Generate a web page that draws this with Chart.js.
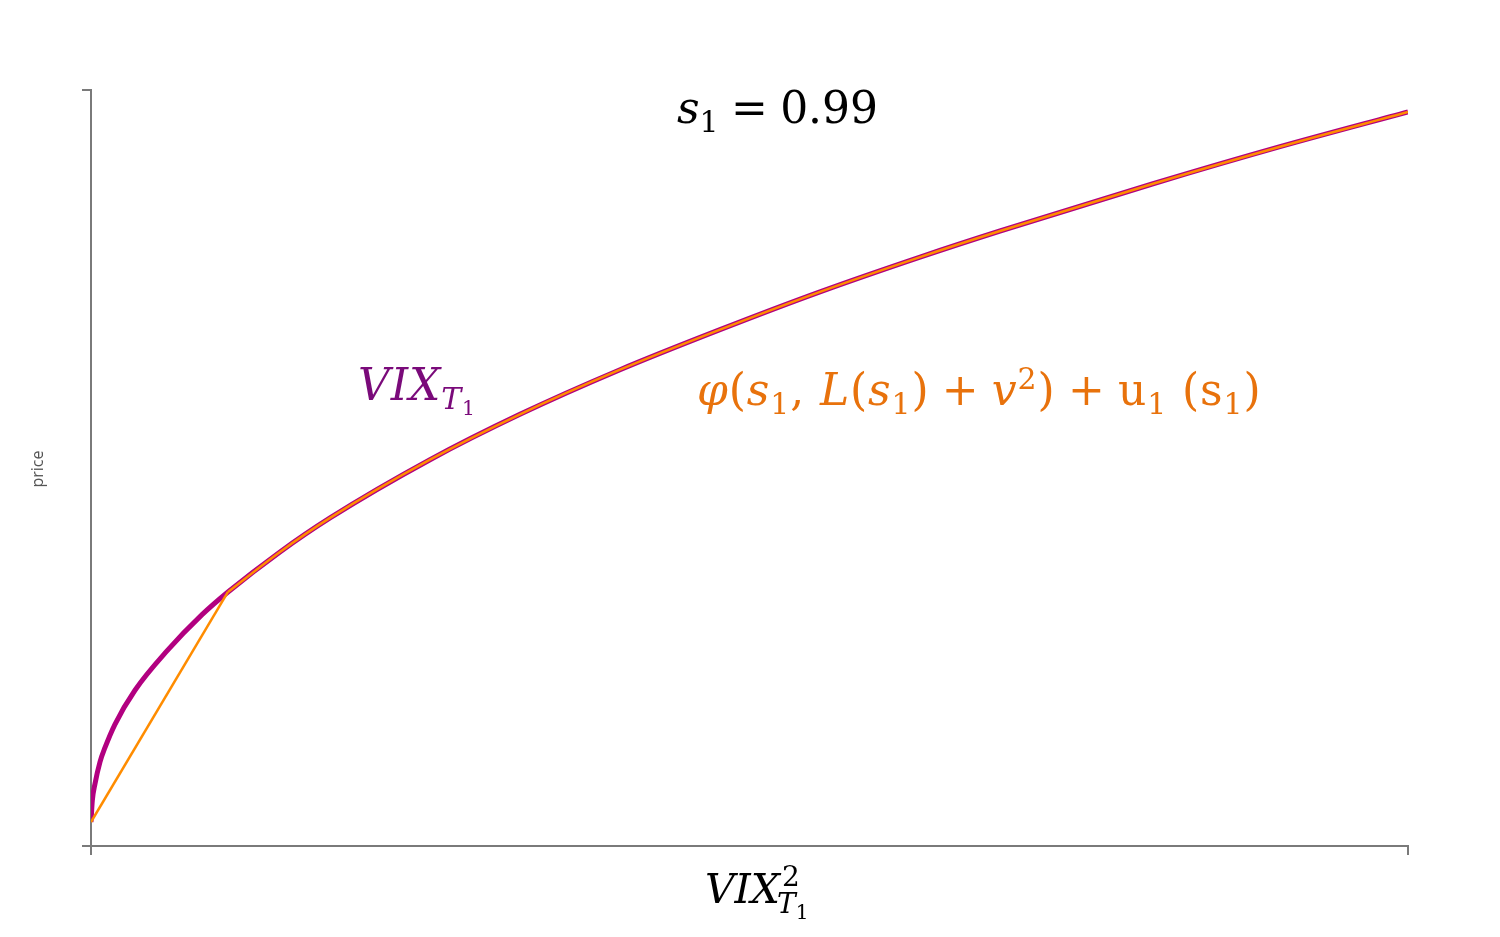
<!DOCTYPE html>
<html>
<head>
<meta charset="utf-8">
<script src="https://cdn.jsdelivr.net/npm/chart.js@4.4.0/dist/chart.umd.min.js"></script>
<style>
  html, body { margin: 0; padding: 0; background: #fff; }
  #wrap { position: relative; width: 1500px; height: 937px; }
  canvas { position: absolute; left: 0; top: 0; }
  .lbl { position: absolute; font-family: "DejaVu Serif", serif; white-space: nowrap; line-height: 1; }
  .lbl i { font-style: italic; }
  .lbl sub { font-size: 0.68em; vertical-align: -0.3em; line-height: 0; }
  .lbl sup { font-size: 0.68em; vertical-align: 0.55em; line-height: 0; }
  .op { margin: 0 0.28em; }
  #title { left: 677px; top: 86px; font-size: 44px; color: #000; }
  #vixLbl { left: 358px; top: 363px; font-size: 44px; color: #7a0a7a; letter-spacing: 0.02em; }
  #phiLbl { left: 697px; top: 368px; font-size: 44px; color: #e8720c; letter-spacing: 0.02em; }
  #xLbl { left: 705px; top: 869px; font-size: 41px; color: #000; }
  .stack { position: relative; display: inline-block; width: 28px; height: 10px; }
  .stack span { position: absolute; left: 0; font-size: 28px; line-height: 1; }
  .stack .sp { top: -30px; left: 2px; }
  .stack .sb { top: -3px; left: -3px; }
  .stack .sb sub { font-size: 0.72em; vertical-align: -0.3em; }
  #yLbl { position: absolute; left: 12px; top: 458px; width: 50px; text-align: center;
          font-family: "Open Sans", sans-serif; font-size: 16px; color: #555;
          transform: rotate(-90deg); }
</style>
</head>
<body>
<div id="wrap">
  <canvas id="myChart" width="1500" height="937"></canvas>
  <div id="title" class="lbl"><i>s</i><sub>1</sub><span class="op">=</span>0.99</div>
  <div id="vixLbl" class="lbl"><i>VIX</i><sub><i>T</i><sub>1</sub></sub></div>
  <div id="phiLbl" class="lbl"><i>φ</i>(<i>s</i><sub>1</sub>, <i>L</i>(<i>s</i><sub>1</sub>)<span class="op">+</span><i>v</i><sup>2</sup>)<span class="op">+</span>u<sub>1</sub> (s<sub>1</sub>)</div>
  <div id="xLbl" class="lbl"><i>VIX</i><span class="stack"><span class="sp">2</span><span class="sb"><i>T</i><sub>1</sub></span></span></div>
  <div id="yLbl">price</div>
</div>
<script>
// valores (eje x e y de 0 a 100)
var vixX = [0, 0.1, 0.3, 0.68, 1.06, 1.82, 3.34, 5.77, 8.43, 10.4, 14.35, 18.15, 25.74, 32.57, 40.17, 47.76, 55.35, 62.95, 69.02, 80.64, 90.28, 100];
var vixY = [3.17, 6.0, 8.2, 11.1, 13.0, 16.1, 20.6, 25.8, 30.6, 33.6, 38.9, 43.4, 51.1, 57.1, 63.0, 68.3, 73.3, 77.9, 81.35, 87.6, 92.5, 97.1];

// cuerda naranja desde el origen hasta el punto de contacto
var chordX = [0, 10.4];
var chordY = [3.17, 33.6];

// la curva naranja sigue a la morada desde el punto de contacto
var joinIndex = 9;

function toPoints(xs, ys) {
  return xs.map(function (v, i) { return { x: v, y: ys[i] }; });
}

var purpleColor = 'rgb(178, 0, 128)';
var orangeColor = 'rgb(255, 140, 0)';
var axisColor = '#7a7a7a';

var data = {
  datasets: [{
    label: 'phi curve',
    data: toPoints(vixX.slice(joinIndex), vixY.slice(joinIndex)),
    borderColor: orangeColor,
    borderWidth: 2.5,
    pointRadius: 0,
    cubicInterpolationMode: 'monotone'
  }, {
    label: 'phi chord',
    data: toPoints(chordX, chordY),
    borderColor: orangeColor,
    borderWidth: 2.5,
    pointRadius: 0,
    tension: 0
  }, {
    label: 'VIX',
    data: toPoints(vixX, vixY),
    borderColor: purpleColor,
    borderWidth: 5,
    pointRadius: 0,
    cubicInterpolationMode: 'monotone'
  }]
};

var axisGrid = {
  drawOnChartArea: false,
  drawTicks: true,
  tickLength: 9,
  color: axisColor,
  lineWidth: 2
};

var options = {
  responsive: false,
  animation: false,
  layout: { padding: { left: 82, right: 92, top: 90, bottom: 82 } },
  plugins: { legend: { display: false }, tooltip: { enabled: false } },
  scales: {
    x: {
      type: 'linear',
      min: 0,
      max: 100,
      grid: axisGrid,
      border: { color: axisColor, width: 2 },
      ticks: { display: false, stepSize: 100 }
    },
    y: {
      min: 0,
      max: 100,
      grid: axisGrid,
      border: { color: axisColor, width: 2 },
      ticks: { display: false, stepSize: 100 }
    }
  }
};

var ctx = document.getElementById('myChart').getContext('2d');
var myChart = new Chart(ctx, {
  type: 'line',
  data: data,
  options: options
});
</script>
</body>
</html>
